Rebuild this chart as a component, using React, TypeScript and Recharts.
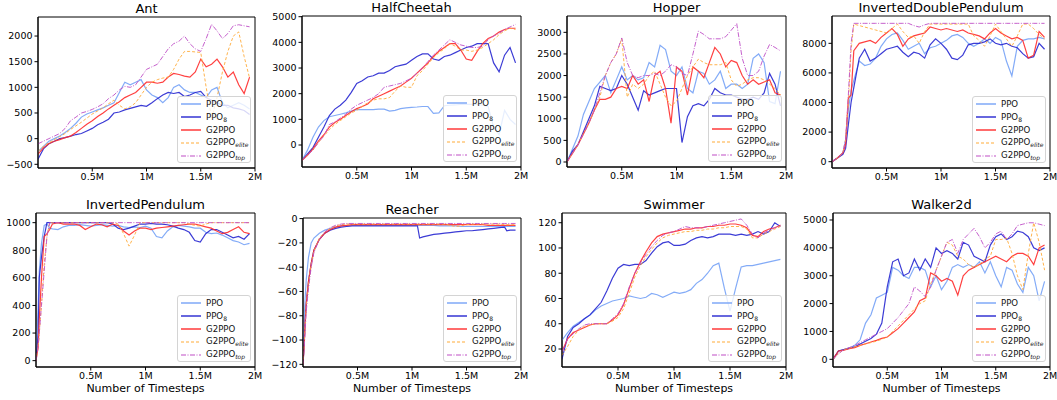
import React from 'react';
import { LineChart, Line, XAxis, YAxis, Legend, ReferenceArea } from 'recharts';

const FONT = '"DejaVu Sans", Verdana, sans-serif';

// ---------- shared x grids (million timesteps) ----------
const xStd = [0, 0.05, 0.1, 0.15, 0.2, 0.25, 0.3, 0.35, 0.4, 0.45, 0.5, 0.55, 0.6, 0.65, 0.7, 0.75, 0.8, 0.85, 0.9, 0.95, 1, 1.05, 1.1, 1.15, 1.2, 1.25, 1.3, 1.35, 1.4, 1.45, 1.5, 1.55, 1.6, 1.65, 1.7, 1.75, 1.8, 1.85, 1.9, 1.95];
const xIdp = [0, 0.05, 0.1, 0.125, 0.15, 0.175, 0.2, 0.25, 0.3, 0.35, 0.4, 0.45, 0.5, 0.55, 0.6, 0.65, 0.7, 0.75, 0.8, 0.85, 0.9, 0.95, 1, 1.05, 1.1, 1.15, 1.2, 1.25, 1.3, 1.35, 1.4, 1.45, 1.5, 1.55, 1.6, 1.65, 1.7, 1.75, 1.8, 1.85, 1.9, 1.95];
const xIp = [0, 0.02, 0.03, 0.05, 0.075, 0.1, 0.125, 0.15, 0.2, 0.25, 0.3, 0.35, 0.4, 0.45, 0.5, 0.55, 0.6, 0.65, 0.7, 0.75, 0.8, 0.85, 0.9, 0.95, 1, 1.05, 1.1, 1.15, 1.2, 1.25, 1.3, 1.35, 1.4, 1.45, 1.5, 1.55, 1.6, 1.65, 1.7, 1.75, 1.8, 1.85, 1.9, 1.95];
const xRe = [0, 0.01, 0.02, 0.03, 0.05, 0.075, 0.1, 0.15, 0.2, 0.25, 0.3, 0.35, 0.4, 0.45, 0.5, 0.55, 0.6, 0.65, 0.7, 0.75, 0.8, 0.85, 0.9, 0.95, 1, 1.05, 1.07, 1.1, 1.15, 1.2, 1.25, 1.3, 1.35, 1.4, 1.45, 1.5, 1.55, 1.6, 1.65, 1.7, 1.75, 1.8, 1.85, 1.87, 1.9, 1.95];

const xTicks = [0.5, 1, 1.5, 2];

// ---------- Ant ----------
const antPPO = [-250, -150, -50, 0, 50, 120, 200, 300, 420, 480, 520, 560, 600, 650, 700, 900, 1100, 1050, 1100, 1150, 950, 850, 800, 700, 800, 1000, 1050, 950, 900, 900, 850, 800, 950, 1000, 700, 600, 650, 700, 650, 580];
const antPPO8 = [-400, -200, -100, -50, 0, 20, 50, 80, 100, 150, 200, 270, 320, 380, 500, 520, 560, 590, 620, 650, 630, 700, 780, 850, 900, 880, 900, 820, 850, 900, 920, 800, 750, 700, 650, 650, 600, 580, 550, 470];
const antG2 = [-300, -180, -100, -50, -20, 20, 50, 120, 200, 280, 350, 430, 500, 580, 650, 720, 800, 850, 900, 1000, 1100, 1100, 1080, 1100, 1200, 1270, 1250, 1220, 1200, 1300, 1550, 1400, 1450, 1550, 1400, 1200, 1300, 1050, 880, 1200];
const antElite = [-250, -150, -80, -20, 40, 100, 180, 250, 320, 400, 480, 540, 600, 680, 750, 650, 580, 620, 700, 850, 1000, 1100, 1150, 1180, 1200, 1350, 1550, 1700, 1700, 1690, 1680, 1000, 400, 800, 1300, 1700, 2000, 2080, 1600, 1180];
const antTop = [-100, -50, 0, 50, 100, 200, 350, 420, 500, 530, 570, 620, 680, 780, 850, 950, 1020, 1000, 1050, 1200, 1350, 1400, 1450, 1600, 1750, 1850, 1900, 2000, 1850, 1750, 1700, 1950, 2230, 2100, 1950, 2050, 2200, 2220, 2200, 2180];
const antYTicks = [-500, 0, 500, 1000, 1500, 2000];

// ---------- HalfCheetah ----------
const hcPPO = [-600, -200, 300, 700, 950, 1100, 1150, 1200, 1250, 1320, 1380, 1380, 1380, 1380, 1400, 1400, 1320, 1350, 1420, 1450, 1470, 1480, 1500, 1500, 1230, 1250, 1530, 1550, 1560, 1580, 1580, 1580, 1580, 1550, 1500, 700, 400, 1350, 1000, 800];
const hcPPO8 = [-600, -350, -100, 300, 700, 1150, 1400, 1550, 1750, 2050, 2400, 2500, 2650, 2700, 2800, 2800, 2900, 3050, 3100, 3150, 3300, 3450, 3550, 3550, 3350, 3300, 3450, 3500, 3600, 3700, 3800, 3850, 3950, 3950, 3950, 3200, 2850, 3500, 3800, 3200];
const hcG2 = [-600, -400, -150, 150, 400, 700, 880, 1000, 1150, 1300, 1420, 1500, 1600, 1800, 1900, 2000, 2100, 2200, 2300, 2450, 2600, 2800, 3000, 3200, 3450, 3650, 3800, 3950, 3950, 3700, 3350, 3300, 3650, 3950, 4150, 4250, 4400, 4500, 4550, 4550];
const hcElite = [-600, -400, -200, 100, 350, 600, 800, 950, 1100, 1250, 1350, 1500, 1650, 1750, 1800, 1800, 1850, 2100, 2300, 2250, 2250, 2700, 2900, 3150, 3400, 3600, 3750, 3950, 3850, 3700, 3700, 3650, 3700, 3800, 3950, 4100, 4300, 4450, 4550, 4500];
const hcTop = [-600, -400, -200, 100, 350, 800, 900, 1050, 1200, 1400, 1550, 1650, 1750, 1850, 2000, 2250, 2300, 2350, 2400, 2500, 2600, 2800, 3000, 3250, 3500, 3700, 3900, 4100, 4000, 3900, 3850, 3800, 3800, 3850, 4100, 4250, 4350, 4500, 4600, 4700];
const hcYTicks = [0, 1000, 2000, 3000, 4000, 5000];

// ---------- Hopper ----------
const hopPPO = [0, 300, 600, 1100, 1400, 1700, 1850, 2000, 1600, 1900, 2200, 1900, 2000, 1900, 1950, 2300, 2200, 2700, 2600, 2100, 2000, 2200, 1700, 1600, 2100, 2050, 1800, 1900, 2100, 1700, 1800, 1800, 1700, 1800, 2400, 2500, 2300, 1400, 1350, 2100];
const hopPPO8 = [0, 250, 400, 700, 1000, 1300, 1750, 1700, 1650, 1700, 2000, 1800, 1500, 1200, 1650, 1550, 1600, 1650, 1700, 1700, 1700, 450, 1050, 1300, 1350, 1300, 1450, 1700, 1600, 1550, 1550, 1500, 1450, 1450, 1500, 1450, 1600, 2050, 1800, 1300];
const hopG2 = [0, 200, 400, 650, 900, 1200, 1450, 1450, 1500, 1700, 1750, 1700, 2000, 1800, 1900, 1400, 2000, 2100, 1700, 900, 2200, 2100, 1550, 2200, 2100, 1950, 2300, 2650, 2500, 2200, 2350, 2300, 2000, 1800, 1900, 1800, 1850, 1900, 1600, 1550];
const hopElite = [0, 200, 400, 650, 900, 1200, 1500, 2000, 2300, 2500, 2850, 1500, 1800, 1700, 1800, 2000, 2100, 1800, 1500, 1300, 1400, 1700, 2000, 2200, 2380, 2300, 2250, 2250, 2250, 2300, 1900, 1750, 1800, 1900, 1950, 1950, 1900, 1800, 1700, 1550];
const hopTop = [0, 200, 400, 650, 900, 1200, 1600, 2000, 2300, 2500, 2870, 2300, 2000, 1950, 2000, 2000, 2050, 2000, 2100, 2250, 2200, 2050, 2000, 2500, 3030, 2950, 2850, 2850, 2850, 2900, 3050, 3200, 2400, 2000, 2000, 2100, 2450, 2720, 2650, 2570];
const hopYTicks = [0, 500, 1000, 1500, 2000, 2500, 3000];

// ---------- InvertedDoublePendulum ----------
const idpPPO = [0, 250, 600, 1500, 3500, 4800, 5500, 6800, 6500, 6600, 7000, 7800, 8300, 8600, 8700, 8200, 7600, 7800, 8000, 7300, 7700, 7800, 8000, 8200, 8500, 8600, 8400, 8000, 7800, 8000, 8300, 8000, 8400, 8200, 6800, 5800, 7800, 8200, 8300, 8300, 8400, 8300];
const idpPPO8 = [0, 250, 500, 900, 2500, 4000, 5000, 7000, 7600, 6800, 7000, 7300, 7600, 7700, 7800, 7400, 7100, 7400, 7300, 7000, 7900, 8300, 8000, 7600, 7000, 6900, 7200, 7900, 8000, 8000, 8100, 8300, 8000, 7900, 8000, 7800, 7700, 7300, 7000, 7100, 8000, 7600];
const idpG2 = [0, 250, 600, 1200, 4300, 4500, 7500, 8000, 8100, 8200, 8000, 8400, 8700, 9000, 8600, 7800, 8300, 8500, 8600, 8700, 9100, 9000, 8900, 9000, 8900, 8800, 8900, 8700, 8600, 8500, 8300, 8700, 9000, 8700, 8500, 8300, 8400, 8200, 7000, 7200, 8800, 8400];
const idpElite = [0, 250, 600, 1500, 4000, 7500, 9300, 9200, 9100, 9000, 8900, 8800, 8700, 9000, 9300, 8800, 8400, 8500, 8000, 8800, 9300, 9300, 9300, 9300, 9300, 9300, 9300, 9300, 8500, 8200, 7800, 8500, 9300, 8800, 8300, 7800, 8500, 9300, 9300, 9000, 8600, 8300];
const idpTop = [0, 250, 600, 1500, 4500, 8000, 9350, 9350, 9350, 9350, 9350, 9350, 9350, 9350, 9350, 9350, 9350, 9200, 9100, 9250, 9350, 9350, 9350, 9350, 9350, 9350, 9350, 9350, 9350, 9350, 9350, 9350, 9350, 9350, 9350, 9350, 9350, 9350, 9350, 9350, 9350, 9350];
const idpYTicks = [0, 2000, 4000, 6000, 8000];

// ---------- InvertedPendulum ----------
const ipPPO = [0, 400, 650, 850, 980, 990, 960, 955, 950, 970, 980, 980, 985, 980, 975, 980, 985, 980, 975, 980, 970, 965, 970, 965, 975, 960, 900, 890, 940, 970, 980, 975, 970, 960, 960, 930, 920, 925, 910, 890, 870, 860, 840, 850];
const ipPPO8 = [0, 200, 600, 750, 900, 1000, 1000, 1000, 1000, 1000, 1000, 1000, 1000, 1000, 1000, 1000, 1000, 1000, 990, 960, 950, 960, 975, 990, 990, 995, 990, 990, 985, 975, 960, 950, 930, 870, 860, 920, 950, 950, 930, 910, 890, 900, 880, 920];
const ipG2 = [0, 100, 300, 600, 900, 920, 950, 990, 1000, 990, 990, 990, 980, 950, 970, 990, 985, 970, 990, 980, 940, 910, 940, 960, 960, 950, 960, 965, 970, 975, 980, 985, 990, 990, 980, 970, 960, 940, 920, 930, 950, 970, 930, 920];
const ipElite = [0, 100, 200, 400, 700, 900, 1000, 1000, 1000, 1000, 1000, 1000, 1000, 1000, 1000, 1000, 1000, 1000, 1000, 990, 920, 830, 910, 1000, 1000, 1000, 1000, 1000, 1000, 1000, 1000, 1000, 990, 980, 975, 990, 1000, 1000, 1000, 1000, 1000, 1000, 1000, 1000];
const ipTop = [0, 100, 200, 400, 650, 900, 1000, 1000, 1000, 1000, 1000, 1000, 1000, 1000, 1000, 1000, 1000, 1000, 1000, 1000, 1000, 1000, 1000, 1000, 1000, 1000, 1000, 1000, 1000, 1000, 1000, 1000, 1000, 1000, 1000, 1000, 1000, 1000, 1000, 1000, 1000, 1000, 1000, 1000];
const ipYTicks = [0, 200, 400, 600, 800, 1000];

// ---------- Reacher ----------
const rePPO = [-118, -85, -65, -50, -32, -20, -16, -12, -9.5, -8, -7, -6, -6, -5.5, -5.5, -5.5, -5.5, -5.5, -5.5, -5.5, -5.5, -5.5, -5.5, -5.5, -5.5, -5.5, -5.5, -5.5, -5.5, -5.5, -6, -6, -6, -6, -6.5, -6.5, -6.5, -6.5, -6.5, -6.5, -6.5, -6.5, -6.5, -6.5, -6.5, -6.5];
const rePPO8 = [-120, -105, -85, -70, -52, -37, -26, -17, -12, -9.5, -8, -7, -6.5, -6, -6, -6, -6, -6, -6, -6, -6, -6, -6, -6, -6, -6, -16, -15, -14, -13, -12.5, -12, -11.5, -11, -10.5, -10, -10, -9.5, -9, -8.5, -8, -7.5, -7, -10, -9.5, -9.5];
const reG2 = [-120, -105, -85, -70, -52, -37, -26, -17, -12, -9, -7, -6, -5.5, -5, -5, -5, -5, -5, -5, -5, -5, -5, -5, -5, -5, -5, -5, -5, -5, -5, -5, -5, -5, -5, -5, -5, -5, -5, -5, -5.5, -5.5, -5.5, -5.5, -5.5, -5.5, -5.5];
const reElite = [-120, -105, -88, -72, -55, -38, -27, -16, -11, -8, -6, -5, -4.5, -4.5, -4.5, -4.5, -4.5, -4.5, -4.5, -4.5, -4.5, -4.5, -4.5, -4.5, -4.5, -4.5, -4.5, -4.5, -4.5, -4.5, -4.5, -4.5, -5.5, -6.5, -6, -5, -4.5, -4.5, -4.5, -4.5, -4.5, -4.5, -5, -5, -5, -5];
const reTop = [-120, -108, -92, -76, -58, -40, -28, -17, -11, -7.5, -5.5, -4.5, -4, -4, -4, -4, -4, -4, -4, -4, -4, -4, -4, -4, -4, -4, -4, -4, -4, -4, -4, -4, -4, -4, -4, -4, -4, -4, -4, -4, -4, -4, -4, -4, -4, -4];
const reYTicks = [-120, -100, -80, -60, -40, -20, 0];

// ---------- Swimmer ----------
const swPPO = [27, 33, 38, 41, 44, 47, 51, 54, 56, 58, 59, 60, 62, 61, 60, 61, 64, 63, 61, 63, 65, 64, 65, 67, 72, 75, 80, 86, 88, 68, 50, 68, 85, 86, 86, 87, 88, 89, 90, 91];
const swPPO8 = [12, 30, 37, 40, 44, 47, 52, 57, 66, 76, 84, 87, 86, 87, 87, 90, 96, 101, 104, 105, 102, 102, 103, 106, 108, 109, 108, 109, 111, 111, 111, 110, 111, 110, 111, 113, 111, 113, 120, 117];
const swG2 = [18, 28, 33, 35, 37, 39, 40, 40, 40, 43, 47, 55, 68, 80, 89, 97, 104, 109, 111, 112, 113, 114, 115, 115, 116, 116, 117, 117, 118, 118, 119, 119, 118, 116, 110, 109, 113, 115, 116, 118];
const swElite = [15, 22, 30, 35, 38, 39, 40, 40, 40, 42, 45, 52, 64, 77, 86, 93, 99, 104, 108, 110, 111, 112, 113, 113, 114, 114, 115, 115, 116, 116, 117, 117, 117, 115, 108, 108, 111, 113, 115, 117];
const swTop = [18, 28, 32, 36, 39, 40, 40, 40, 40, 44, 48, 56, 69, 80, 88, 95, 101, 106, 110, 112, 113, 115, 117, 116, 116, 116, 117, 118, 119, 120, 121, 122, 123, 118, 111, 108, 112, 114, 116, 118];
const swYTicks = [20, 40, 60, 80, 100, 120];

// ---------- Walker2d ----------
const wkPPO = [0, 300, 350, 400, 500, 700, 1300, 1600, 2200, 2300, 2400, 3300, 3200, 3000, 2900, 3300, 3300, 3200, 2600, 3000, 2500, 2800, 3300, 3400, 3300, 3400, 3300, 3500, 3100, 3500, 3000, 2600, 3300, 3200, 2700, 2400, 3300, 3000, 2100, 2800];
const wkPPO8 = [0, 300, 350, 400, 450, 550, 650, 750, 900, 1300, 2600, 3500, 3600, 3000, 3100, 3600, 3200, 3600, 3300, 4000, 3800, 3900, 3800, 3600, 4200, 4100, 3700, 3600, 3500, 4100, 4400, 4500, 4300, 4400, 4600, 4550, 4400, 4000, 3900, 4000];
const wkG2 = [0, 300, 330, 380, 420, 500, 560, 620, 680, 750, 800, 950, 1100, 1300, 1500, 1700, 2100, 2200, 3100, 3000, 2800, 2900, 2800, 2300, 3000, 3200, 3300, 3400, 3500, 3600, 3700, 3600, 3500, 3700, 3800, 3800, 3700, 3400, 4000, 4100];
const wkElite = [0, 200, 350, 400, 450, 500, 550, 600, 650, 720, 800, 1000, 1200, 1400, 1600, 1800, 2000, 2100, 2700, 3200, 3700, 4200, 4100, 3700, 3600, 3400, 3300, 3400, 3600, 3700, 4300, 4300, 4350, 3800, 3000, 2500, 3800, 4900, 4200, 3200];
const wkTop = [0, 200, 350, 420, 500, 600, 700, 800, 900, 1000, 1100, 1300, 1500, 1750, 2000, 2600, 2450, 2250, 2600, 3200, 3700, 4200, 4300, 3800, 4300, 4500, 4700, 4400, 4000, 4200, 4500, 4600, 4300, 4500, 4800, 4850, 4900, 4900, 4850, 4800];
const wkYTicks = [0, 1000, 2000, 3000, 4000, 5000];

// ---------- series styling ----------
const SERIES = [
  { key: 'ppo', base: 'PPO', sub: '', italic: false, color: '#76a2f6', width: 1.2, dash: undefined as string | undefined },
  { key: 'ppo8', base: 'PPO', sub: '8', italic: false, color: '#2626d0', width: 1.2, dash: undefined },
  { key: 'g2', base: 'G2PPO', sub: '', italic: false, color: '#ff2b2b', width: 1.2, dash: undefined },
  { key: 'elite', base: 'G2PPO', sub: 'elite', italic: true, color: '#ffab38', width: 1, dash: '3 2' },
  { key: 'top', base: 'G2PPO', sub: 'top', italic: true, color: '#bf4fc6', width: 1, dash: '5 1.5 1 1.5' },
];

type PanelDef = {
  title: string;
  x: number[];
  ys: number[][];
  yDomain: [number, number];
  yTicks: number[];
  l: number; t: number; r: number; b: number;
  xLabel: boolean;
};

const PANELS: PanelDef[] = [
  { title: 'Ant', x: xStd, ys: [antPPO, antPPO8, antG2, antElite, antTop], yDomain: [-572, 2371], yTicks: antYTicks, l: 38, t: 17, r: 255, b: 168, xLabel: false },
  { title: 'HalfCheetah', x: xStd, ys: [hcPPO, hcPPO8, hcG2, hcElite, hcTop], yDomain: [-857, 5027], yTicks: hcYTicks, l: 302, t: 16, r: 521, b: 167, xLabel: false },
  { title: 'Hopper', x: xStd, ys: [hopPPO, hopPPO8, hopG2, hopElite, hopTop], yDomain: [-116, 3378], yTicks: hopYTicks, l: 567, t: 16, r: 786, b: 167, xLabel: false },
  { title: 'InvertedDoublePendulum', x: xIdp, ys: [idpPPO, idpPPO8, idpG2, idpElite, idpTop], yDomain: [-426, 9846], yTicks: idpYTicks, l: 832, t: 16, r: 1050, b: 168, xLabel: false },
  { title: 'InvertedPendulum', x: xIp, ys: [ipPPO, ipPPO8, ipG2, ipElite, ipTop], yDomain: [-46, 1070], yTicks: ipYTicks, l: 36, t: 213, r: 255, b: 367, xLabel: true },
  { title: 'Reacher', x: xRe, ys: [rePPO, rePPO8, reG2, reElite, reTop], yDomain: [-122.2, 0.5], yTicks: reYTicks, l: 303, t: 218, r: 521, b: 367, xLabel: true },
  { title: 'Swimmer', x: xStd, ys: [swPPO, swPPO8, swG2, swElite, swTop], yDomain: [5.75, 127.7], yTicks: swYTicks, l: 562, t: 213, r: 786, b: 367, xLabel: true },
  { title: 'Walker2d', x: xStd, ys: [wkPPO, wkPPO8, wkG2, wkElite, wkTop], yDomain: [-276, 5251], yTicks: wkYTicks, l: 833, t: 213, r: 1050, b: 367, xLabel: true },
];

const fmtX = (v: number) => `${v}M`;
const fmtY = (v: number) => String(v).replace('-', '\u2212');

const LEG_W = 74;
const LEG_H = 67;

function LegendBox() {
  return (
    <div
      style={{
        width: LEG_W,
        height: LEG_H,
        boxSizing: 'border-box',
        background: 'rgba(255,255,255,0.8)',
        border: '1px solid #d4d4d4',
        borderRadius: 3,
        paddingTop: 1,
        fontFamily: FONT,
        fontSize: 8.6,
        color: '#111',
        lineHeight: 1,
      }}
    >
      {SERIES.map((s) => (
        <div key={s.key} style={{ display: 'flex', alignItems: 'center', height: 12.8 }}>
          <svg width={28} height={8} style={{ flex: 'none' }}>
            <line x1={3} x2={23} y1={4} y2={4} stroke={s.color} strokeWidth={s.width + 0.2} strokeDasharray={s.dash} />
          </svg>
          <span style={{ whiteSpace: 'nowrap' }}>
            {s.base}
            {s.sub ? (
              <span style={{ fontSize: 6, fontStyle: s.italic ? 'italic' : 'normal', position: 'relative', top: 2 }}>{s.sub}</span>
            ) : null}
          </span>
        </div>
      ))}
    </div>
  );
}

const ML = 45;
const MT = 5;
const MR = 8;
const XH = 25;

function Panel({ p }: { p: PanelDef }) {
  const rows = p.x.map((xv, i) => ({
    x: xv,
    ppo: p.ys[0][i],
    ppo8: p.ys[1][i],
    g2: p.ys[2][i],
    elite: p.ys[3][i],
    top: p.ys[4][i],
  }));
  const W = p.r - p.l;
  const H = p.b - p.t;
  const tickStyle = { fill: '#000', fontSize: 9.5, fontFamily: FONT };
  return (
    <div style={{ position: 'absolute', left: p.l - ML, top: p.t - MT }}>
      <LineChart width={W + ML + MR} height={H + MT + XH} data={rows} margin={{ top: MT, right: MR, bottom: 0, left: 0 }}>
        <XAxis
          dataKey="x"
          type="number"
          domain={[0, 2]}
          ticks={xTicks}
          tickFormatter={fmtX}
          height={XH}
          stroke="#000"
          tick={tickStyle}
          tickSize={3.5}
          tickMargin={1.5}
          allowDataOverflow
          interval={0}
        />
        <YAxis
          type="number"
          domain={p.yDomain}
          ticks={p.yTicks}
          tickFormatter={fmtY}
          width={ML}
          stroke="#000"
          tick={tickStyle}
          tickSize={3.5}
          tickMargin={2}
          allowDataOverflow
          interval={0}
        />
        <ReferenceArea x1={0} x2={2} y1={p.yDomain[0]} y2={p.yDomain[1]} fill="none" fillOpacity={0} stroke="#000" strokeWidth={1} ifOverflow="visible" />
        {SERIES.map((s) => (
          <Line
            key={s.key}
            type="linear"
            dataKey={s.key}
            stroke={s.color}
            strokeWidth={s.width}
            strokeDasharray={s.dash}
            strokeOpacity={0.9}
            dot={false}
            activeDot={false}
            isAnimationActive={false}
          />
        ))}
        <Legend
          layout="vertical"
          align="center"
          verticalAlign="middle"
          content={() => <LegendBox />}
          wrapperStyle={{ position: 'absolute', left: ML + W - 4 - LEG_W, top: MT + H - 5 - LEG_H, width: LEG_W, height: LEG_H }}
        />
      </LineChart>
      <div
        style={{
          position: 'absolute',
          left: ML,
          width: W,
          top: MT - 16,
          textAlign: 'center',
          fontFamily: FONT,
          fontSize: 13,
          lineHeight: '15px',
          color: '#000',
          whiteSpace: 'nowrap',
        }}
      >
        {p.title}
      </div>
      {p.xLabel ? (
        <div
          style={{
            position: 'absolute',
            left: ML,
            width: W,
            top: MT + H + 15,
            textAlign: 'center',
            fontFamily: FONT,
            fontSize: 11,
            lineHeight: '13px',
            color: '#000',
            whiteSpace: 'nowrap',
          }}
        >
          Number of Timesteps
        </div>
      ) : null}
    </div>
  );
}

export default function App() {
  return (
    <div style={{ position: 'absolute', left: 0, top: 0, width: 1057, height: 400, background: '#fff', overflow: 'hidden' }}>
      {PANELS.map((p) => (
        <Panel key={p.title} p={p} />
      ))}
    </div>
  );
}
